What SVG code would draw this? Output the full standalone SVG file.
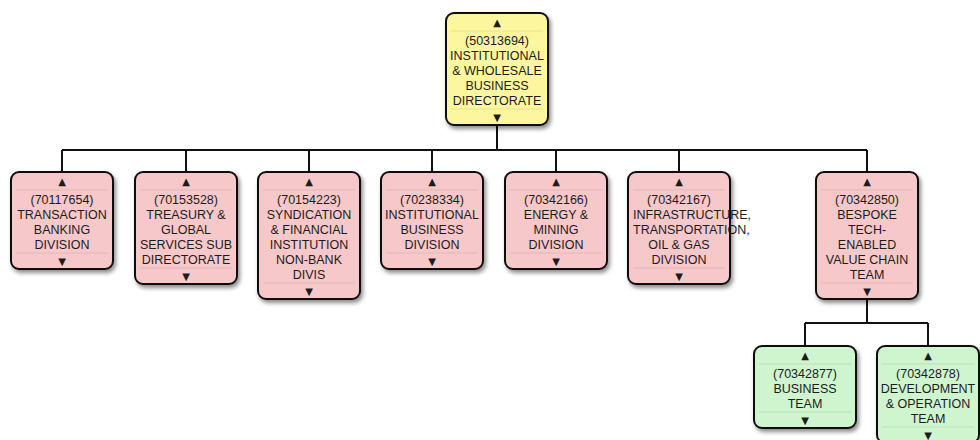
<svg xmlns="http://www.w3.org/2000/svg" width="980" height="440" viewBox="0 0 980 440">
<defs>
<filter id="sh" x="-20%" y="-20%" width="140%" height="140%">
<feDropShadow dx="2" dy="3" stdDeviation="2" flood-color="#000" flood-opacity="0.45"/>
</filter>
</defs>
<style>
.box{stroke:#111;stroke-width:2;filter:url(#sh)}
.y{fill:#fcf79e}
.p{fill:#f7c8c9}
.g{fill:#cff5cf}
.sep{stroke:#000;stroke-opacity:0.09;stroke-width:1}
.t{font-family:"Liberation Sans",Arial,sans-serif;font-size:12.5px;fill:#1c1c1c;text-anchor:middle}
.l{text-anchor:start}
.a{font-family:"DejaVu Sans",sans-serif;font-size:10px;fill:#1c1c1c;text-anchor:middle}
.c{fill:none;stroke:#111;stroke-width:2}
</style>
<rect width="980" height="440" fill="#ffffff"/>
<g id="connectors">
<path class="c" d="M497,125 V150 M62,150 H867 M62,150 V172 M186,150 V172 M309,150 V172 M432,150 V172 M556,150 V172 M679,150 V172 M867,150 V172"/>
<path class="c" d="M867,299 V323 M805,323 H928 M805,323 V346 M928,323 V346"/>
</g>
<g id="n50313694">
<rect class="box y" x="446" y="13" width="102" height="112" rx="8"/>
<text class="a" x="497" y="26">▲</text>
<line class="sep" x1="451" y1="31" x2="543" y2="31"/>
<text class="t" x="497" y="44.5">(50313694)</text>
<text class="t" x="497" y="59.5">INSTITUTIONAL</text>
<text class="t" x="497" y="74.5">&amp; WHOLESALE</text>
<text class="t" x="497" y="89.5">BUSINESS</text>
<text class="t" x="497" y="104.5">DIRECTORATE</text>
<line class="sep" x1="451" y1="109" x2="543" y2="109"/>
<text class="a" x="497" y="121">▼</text>
</g>
<g id="n70117654">
<rect class="box p" x="11" y="172" width="102" height="97" rx="8"/>
<text class="a" x="62" y="185">▲</text>
<line class="sep" x1="16" y1="190" x2="108" y2="190"/>
<text class="t" x="62" y="203.5">(70117654)</text>
<text class="t" x="62" y="218.5">TRANSACTION</text>
<text class="t" x="62" y="233.5">BANKING</text>
<text class="t" x="62" y="248.5">DIVISION</text>
<line class="sep" x1="16" y1="253" x2="108" y2="253"/>
<text class="a" x="62" y="265">▼</text>
</g>
<g id="n70153528">
<rect class="box p" x="135" y="172" width="102" height="112" rx="8"/>
<text class="a" x="186" y="185">▲</text>
<line class="sep" x1="140" y1="190" x2="232" y2="190"/>
<text class="t" x="186" y="203.5">(70153528)</text>
<text class="t" x="186" y="218.5">TREASURY &amp;</text>
<text class="t" x="186" y="233.5">GLOBAL</text>
<text class="t" x="186" y="248.5">SERVICES SUB</text>
<text class="t" x="186" y="263.5">DIRECTORATE</text>
<line class="sep" x1="140" y1="268" x2="232" y2="268"/>
<text class="a" x="186" y="280">▼</text>
</g>
<g id="n70154223">
<rect class="box p" x="258" y="172" width="102" height="127" rx="8"/>
<text class="a" x="309" y="185">▲</text>
<line class="sep" x1="263" y1="190" x2="355" y2="190"/>
<text class="t" x="309" y="203.5">(70154223)</text>
<text class="t" x="309" y="218.5">SYNDICATION</text>
<text class="t" x="309" y="233.5">&amp; FINANCIAL</text>
<text class="t" x="309" y="248.5">INSTITUTION</text>
<text class="t" x="309" y="263.5">NON-BANK</text>
<text class="t" x="309" y="278.5">DIVIS</text>
<line class="sep" x1="263" y1="283" x2="355" y2="283"/>
<text class="a" x="309" y="295">▼</text>
</g>
<g id="n70238334">
<rect class="box p" x="381" y="172" width="102" height="97" rx="8"/>
<text class="a" x="432" y="185">▲</text>
<line class="sep" x1="386" y1="190" x2="478" y2="190"/>
<text class="t" x="432" y="203.5">(70238334)</text>
<text class="t" x="432" y="218.5">INSTITUTIONAL</text>
<text class="t" x="432" y="233.5">BUSINESS</text>
<text class="t" x="432" y="248.5">DIVISION</text>
<line class="sep" x1="386" y1="253" x2="478" y2="253"/>
<text class="a" x="432" y="265">▼</text>
</g>
<g id="n70342166">
<rect class="box p" x="505" y="172" width="102" height="97" rx="8"/>
<text class="a" x="556" y="185">▲</text>
<line class="sep" x1="510" y1="190" x2="602" y2="190"/>
<text class="t" x="556" y="203.5">(70342166)</text>
<text class="t" x="556" y="218.5">ENERGY &amp;</text>
<text class="t" x="556" y="233.5">MINING</text>
<text class="t" x="556" y="248.5">DIVISION</text>
<line class="sep" x1="510" y1="253" x2="602" y2="253"/>
<text class="a" x="556" y="265">▼</text>
</g>
<g id="n70342167">
<rect class="box p" x="628" y="172" width="102" height="112" rx="8"/>
<text class="a" x="679" y="185">▲</text>
<line class="sep" x1="633" y1="190" x2="725" y2="190"/>
<text class="t" x="679" y="203.5">(70342167)</text>
<text class="t l" x="633" y="218.5">INFRASTRUCTURE,</text>
<text class="t l" x="633" y="233.5">TRANSPORTATION,</text>
<text class="t" x="679" y="248.5">OIL &amp; GAS</text>
<text class="t" x="679" y="263.5">DIVISION</text>
<line class="sep" x1="633" y1="268" x2="725" y2="268"/>
<text class="a" x="679" y="280">▼</text>
</g>
<g id="n70342850">
<rect class="box p" x="816" y="172" width="102" height="127" rx="8"/>
<text class="a" x="867" y="185">▲</text>
<line class="sep" x1="821" y1="190" x2="913" y2="190"/>
<text class="t" x="867" y="203.5">(70342850)</text>
<text class="t" x="867" y="218.5">BESPOKE</text>
<text class="t" x="867" y="233.5">TECH-</text>
<text class="t" x="867" y="248.5">ENABLED</text>
<text class="t" x="867" y="263.5">VALUE CHAIN</text>
<text class="t" x="867" y="278.5">TEAM</text>
<line class="sep" x1="821" y1="283" x2="913" y2="283"/>
<text class="a" x="867" y="295">▼</text>
</g>
<g id="n70342877">
<rect class="box g" x="754" y="346" width="102" height="82" rx="8"/>
<text class="a" x="805" y="359">▲</text>
<line class="sep" x1="759" y1="364" x2="851" y2="364"/>
<text class="t" x="805" y="377.5">(70342877)</text>
<text class="t" x="805" y="392.5">BUSINESS</text>
<text class="t" x="805" y="407.5">TEAM</text>
<line class="sep" x1="759" y1="412" x2="851" y2="412"/>
<text class="a" x="805" y="424">▼</text>
</g>
<g id="n70342878">
<rect class="box g" x="877" y="346" width="102" height="97" rx="8"/>
<text class="a" x="928" y="359">▲</text>
<line class="sep" x1="882" y1="364" x2="974" y2="364"/>
<text class="t" x="928" y="377.5">(70342878)</text>
<text class="t" x="928" y="392.5">DEVELOPMENT</text>
<text class="t" x="928" y="407.5">&amp; OPERATION</text>
<text class="t" x="928" y="422.5">TEAM</text>
<line class="sep" x1="882" y1="427" x2="974" y2="427"/>
<text class="a" x="928" y="439">▼</text>
</g>
</svg>
